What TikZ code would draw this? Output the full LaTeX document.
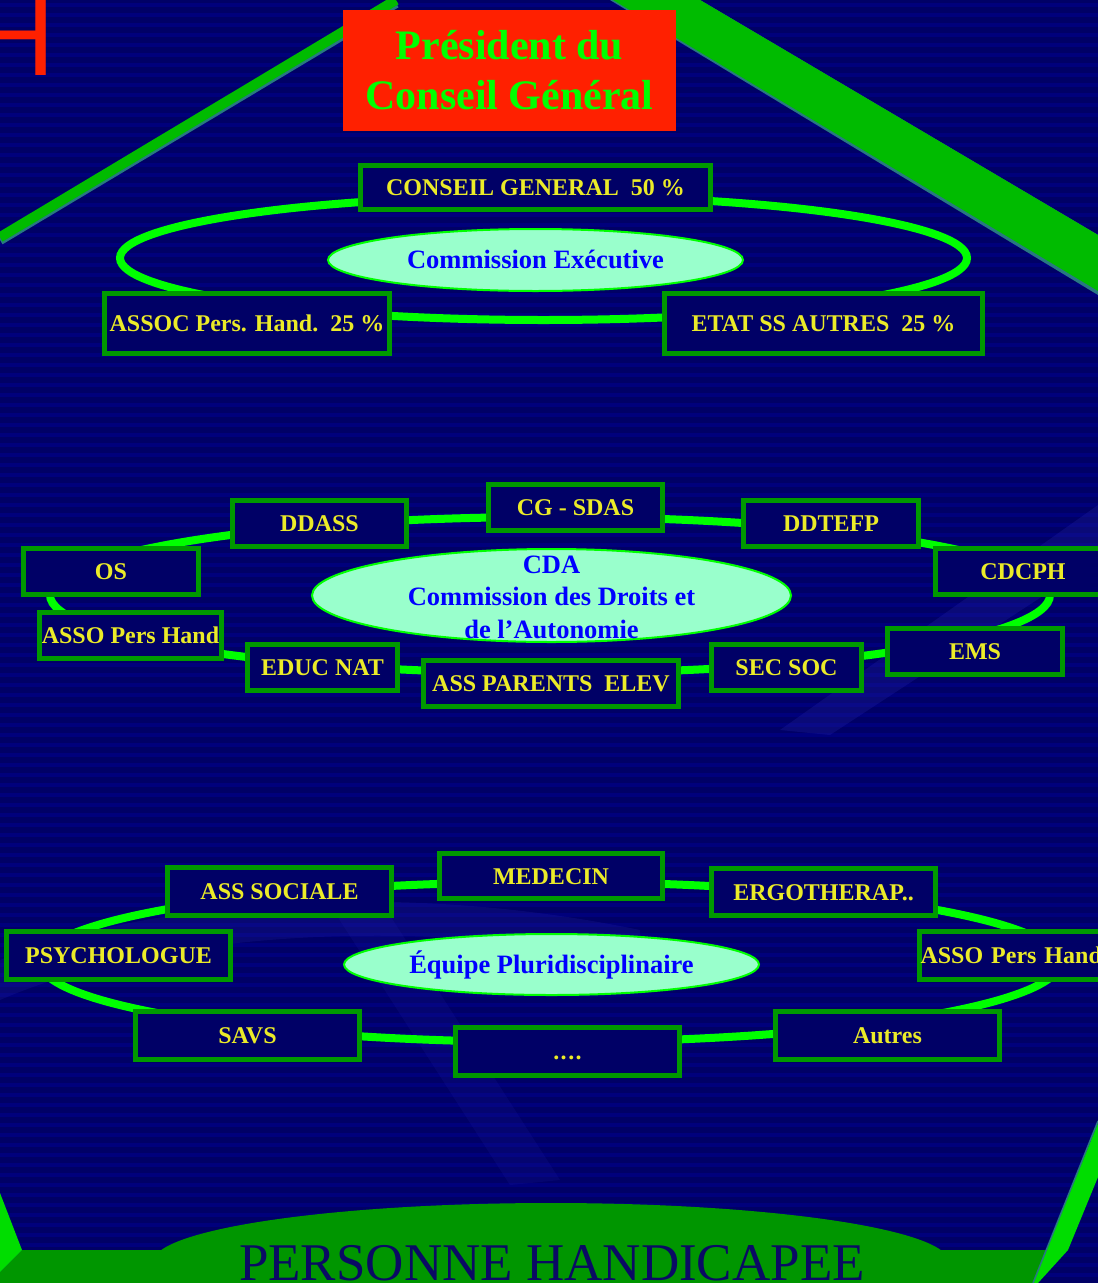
\documentclass[tikz,border=0pt]{standalone}
\usepackage{fontspec}
\setmainfont{Liberation Serif}
\newfontfamily\hfont{Liberation Sans}
\usetikzlibrary{shapes.geometric}
\definecolor{navy}{RGB}{0,0,102}
\definecolor{stripecol}{RGB}{0,0,124}
\definecolor{boxgreen}{RGB}{0,153,0}
\definecolor{lime}{RGB}{0,255,0}
\definecolor{boxyellow}{RGB}{235,235,40}
\definecolor{mint}{RGB}{153,255,204}
\definecolor{ellblue}{RGB}{0,0,255}
\definecolor{biggreen}{RGB}{0,187,0}
\definecolor{bandgreen}{RGB}{0,150,0}
\definecolor{slivergreen}{RGB}{0,221,0}
\definecolor{tealedge}{RGB}{40,120,130}
\definecolor{redbox}{RGB}{255,32,0}
\definecolor{titlenavy}{RGB}{10,10,100}
\definecolor{ghost}{RGB}{40,40,170}
\begin{document}
\begin{tikzpicture}[x=1pt,y=-1pt,
  membox/.style={draw=boxgreen, line width=5pt, fill=navy, text=boxyellow,
    font=\fontsize{24}{28}\selectfont\bfseries, inner sep=0pt,
    text height=16pt, text depth=0pt, minimum height=46pt},
  ringline/.style={draw=lime, line width=8pt},
  commission/.style={ellipse, draw=lime, line width=2pt, fill=mint, inner sep=0pt,
    text=ellblue, font=\fontsize{26.5}{32.5}\selectfont\bfseries},
  ctext/.style={text=ellblue, font=\fontsize{26.5}{32.5}\selectfont\bfseries, align=center, inner sep=0pt}
]
\useasboundingbox (0,0) rectangle (1098,1283);
\clip (0,0) rectangle (1098,1283);
% background
\fill[navy] (0,0) rectangle (1098,1283);
\foreach \k in {0,...,128} {\fill[stripecol] (0,\k*10+3) rectangle (1098,\k*10+7);}
% faint background art
\fill[ghost, opacity=0.25] (780,730) -- (1098,505) -- (1098,560) -- (830,735) -- cycle;
\fill[ghost, opacity=0.2] (0,960) .. controls (150,900) and (400,880) .. (640,930) -- (640,960) .. controls (400,915) and (150,935) .. (0,1000) -- cycle;
\fill[ghost, opacity=0.15] (330,905) -- (380,900) -- (560,1180) -- (510,1185) -- cycle;
% big green frame lines
\draw[tealedge, line width=10pt] (0,240) -- (396,3);
\draw[biggreen, line width=10pt] (0,237.3) -- (396,0);
\fill[tealedge] (610,0) -- (700,0) -- (1098,235) -- (1098,295) -- cycle;
\fill[biggreen] (613,0) -- (700,0) -- (1098,235) -- (1098,291) -- cycle;
% red H fragment
\node[anchor=base west, inner sep=0pt, text=redbox, font=\hfont\fontsize{112}{112}\selectfont] (hfrag) at (-26,75) {H};
% title box
\node[fill=redbox, minimum width=333pt, minimum height=121pt, inner sep=0pt, align=center,
  text=lime, font=\fontsize{42}{50}\selectfont\bfseries] (pres) at (509.5,70.5) {Président du\\Conseil Général};
% rings
\draw[ringline] (543.5,258) ellipse [x radius=423.5, y radius=62];
\draw[ringline] (550,595) ellipse [x radius=500, y radius=78];
\draw[ringline] (550,962) ellipse [x radius=510, y radius=80];
% top section
\node[membox, minimum width=350pt, minimum height=44pt] (cg) at (535.5,187.5) {CONSEIL GENERAL\ \ 50 \%};
\node[membox, minimum width=285pt, minimum height=60pt] (assoc) at (247,323.5) {ASSOC Pers. Hand.\ \ 25 \%};
\node[membox, minimum width=318pt, minimum height=60pt] (etat) at (823.5,323.5) {ETAT SS AUTRES\ \ 25 \%};
\node[commission, minimum width=415pt, minimum height=62pt, text height=17.5pt, text depth=0pt] (exec) at (535.5,260) {Commission Exécutive};
% middle section
\node[membox, minimum width=174pt] (ddass) at (319.5,523.5) {DDASS};
\node[membox, minimum width=174pt] (cgsdas) at (575.5,507.5) {CG - SDAS};
\node[membox, minimum width=175pt] (ddtefp) at (831,523.5) {DDTEFP};
\node[membox, minimum width=175pt] (os) at (111,571.5) {OS};
\node[membox, minimum width=175pt] (cdcph) at (1023,571.5) {CDCPH};
\node[membox, minimum width=182pt] (assoa) at (130.5,635.5) {ASSO Pers Hand};
\node[membox, minimum width=150pt] (educ) at (322.5,667.5) {EDUC NAT};
\node[membox, minimum width=255pt] (parents) at (551,683.5) {ASS PARENTS\ \ ELEV};
\node[membox, minimum width=150pt] (secsoc) at (786.5,667.5) {SEC SOC};
\node[membox, minimum width=175pt] (ems) at (975,651.5) {EMS};
\node[commission, minimum width=479pt, minimum height=93pt] (cda) at (551.5,595.5) {};
\node[ctext] (cdatext) at (551.5,597) {CDA\\Commission des Droits et\\de l’Autonomie};
% bottom section
\node[membox, minimum width=224pt, minimum height=48pt] (asssoc) at (279.5,891.5) {ASS SOCIALE};
\node[membox, minimum width=223pt, minimum height=45pt] (medecin) at (551,876) {MEDECIN};
\node[membox, minimum width=224pt, minimum height=47pt] (ergo) at (823.5,892) {ERGOTHERAP..};
\node[membox, minimum width=224pt, minimum height=48pt] (psycho) at (118.5,955.5) {PSYCHOLOGUE};
\node[membox, minimum width=224pt, minimum height=48pt, text width=224pt, align=left] (assob) at (1031.5,955.5) {\hspace*{1pt}ASSO Pers Hand};
\node[membox, minimum width=224pt, minimum height=48pt] (dotsbox) at (567.5,1051.5) {.\kern1.5pt.\kern1.5pt.\kern1.5pt.};
\node[membox, minimum width=224pt, minimum height=48pt] (savs) at (247.5,1035.5) {SAVS};
\node[membox, minimum width=224pt, minimum height=48pt] (autres) at (887.5,1035.5) {Autres};
\node[commission, minimum width=415pt, minimum height=61pt, text height=17.5pt, text depth=0pt] (equipe) at (551.5,964.5) {Équipe Pluridisciplinaire};
% bottom ground
\fill[bandgreen] (22,1250) -- (1048,1250) -- (1036,1283) -- (0,1283) -- (0,1272) -- cycle;
\fill[bandgreen] (551,1262) ellipse [x radius=398, y radius=59];
\fill[slivergreen] (0,1193) -- (22,1250) -- (0,1272) -- cycle;
\fill[slivergreen] (1098,1123) -- (1098,1177) -- (1068,1250) -- (1038,1283) -- (1033,1283) -- cycle;
\draw[tealedge, line width=1.5pt] (1098,1121) -- (1033,1283);
\node[anchor=base, inner sep=0pt, text=titlenavy, font=\fontsize{53}{53}\selectfont] (person) at (552,1280) {PERSONNE HANDICAPEE};
\end{tikzpicture}
\end{document}
